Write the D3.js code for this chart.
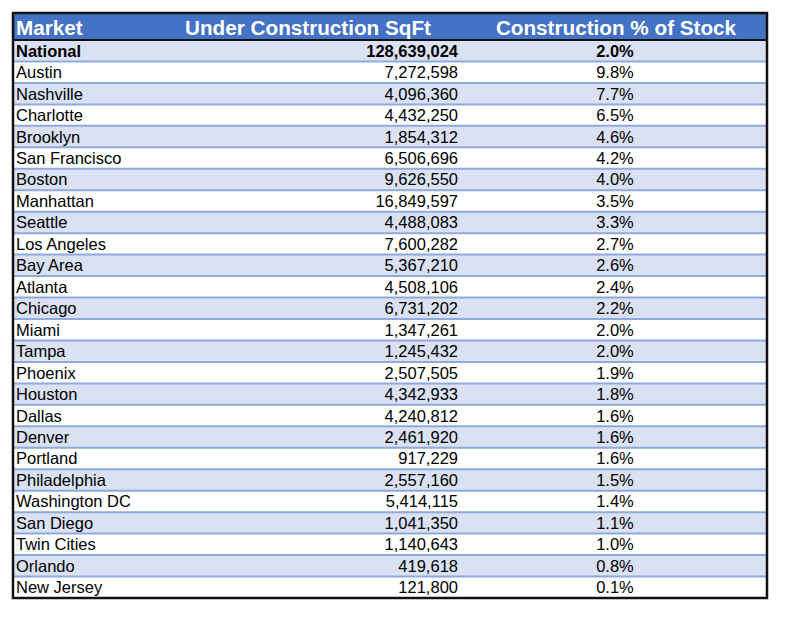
<!DOCTYPE html>
<html><head><meta charset="utf-8">
<script src="https://cdn.jsdelivr.net/npm/d3@7"></script>
<style>body{margin:0;background:#fff}svg{display:block}</style>
</head><body>
<svg id="chart" width="786" height="620"></svg>
<script>
const headers = ["Market", "Under Construction SqFt", "Construction % of Stock"];
const markets = ["National","Austin","Nashville","Charlotte","Brooklyn","San Francisco","Boston","Manhattan","Seattle","Los Angeles","Bay Area","Atlanta","Chicago","Miami","Tampa","Phoenix","Houston","Dallas","Denver","Portland","Philadelphia","Washington DC","San Diego","Twin Cities","Orlando","New Jersey"];
const sqft = [128639024,7272598,4096360,4432250,1854312,6506696,9626550,16849597,4488083,7600282,5367210,4508106,6731202,1347261,1245432,2507505,4342933,4240812,2461920,917229,2557160,5414115,1041350,1140643,419618,121800];
const pct = [2.0,9.8,7.7,6.5,4.6,4.2,4.0,3.5,3.3,2.7,2.6,2.4,2.2,2.0,2.0,1.9,1.8,1.6,1.6,1.6,1.5,1.4,1.1,1.0,0.8,0.1];

const svg = d3.select("#chart");
const L = 13, R = 767, T = 13, HB = 40, B = 598;
const font = "'Liberation Sans', Arial, sans-serif";
const y = d3.scaleBand().domain(d3.range(markets.length)).range([HB, B]).padding(0);
const fmt = d3.format(",");
const fmtP = d => d3.format(".1f")(d) + "%";

// header
svg.append("rect").attr("x", L).attr("y", T).attr("width", R - L).attr("height", HB - T).attr("fill", "#4472C4");
const hx = [{x: 16, a: "start"}, {x: 308, a: "middle"}, {x: 616, a: "middle"}];
svg.selectAll("text.h").data(headers).join("text").attr("class", "h")
  .attr("x", (d, i) => hx[i].x).attr("y", 34.5).attr("text-anchor", (d, i) => hx[i].a)
  .attr("font-family", font).attr("font-weight", "bold").attr("font-size", 20.7).attr("fill", "#fff").text(d => d);

// rows
const rows = svg.selectAll("g.row").data(markets).join("g").attr("class", "row")
  .attr("transform", (d, i) => `translate(0,${y(i)})`);
rows.append("rect").attr("x", L).attr("y", 0).attr("width", R - L).attr("height", y.bandwidth())
  .attr("fill", (d, i) => i % 2 === 0 ? "#D9E1F2" : "#FFFFFF");
rows.filter((d, i) => i > 0).append("line").attr("x1", L).attr("x2", R).attr("y1", 0).attr("y2", 0)
  .attr("stroke", "#8EA9DB").attr("stroke-width", 2);
rows.append("text").attr("x", 16).attr("y", 16.7).attr("font-family", font).attr("font-size", 16.5)
  .attr("font-weight", (d, i) => i === 0 ? "bold" : "normal").attr("fill", "#000").text(d => d);
rows.append("text").attr("x", 458).attr("y", 16.7).attr("text-anchor", "end").attr("font-family", font).attr("font-size", 16.5)
  .attr("font-weight", (d, i) => i === 0 ? "bold" : "normal").attr("fill", "#000").text((d, i) => fmt(sqft[i]));
rows.append("text").attr("x", 615).attr("y", 16.7).attr("text-anchor", "middle").attr("font-family", font).attr("font-size", 16.5)
  .attr("font-weight", (d, i) => i === 0 ? "bold" : "normal").attr("fill", "#000").text((d, i) => fmtP(pct[i]));

// header bottom line & outer border
svg.append("line").attr("x1", L).attr("x2", R).attr("y1", HB).attr("y2", HB).attr("stroke", "#111").attr("stroke-width", 2);
svg.append("rect").attr("x", L).attr("y", T).attr("width", R - L).attr("height", B - T)
  .attr("fill", "none").attr("stroke", "#111").attr("stroke-width", 2.5);
</script>
</body></html>
